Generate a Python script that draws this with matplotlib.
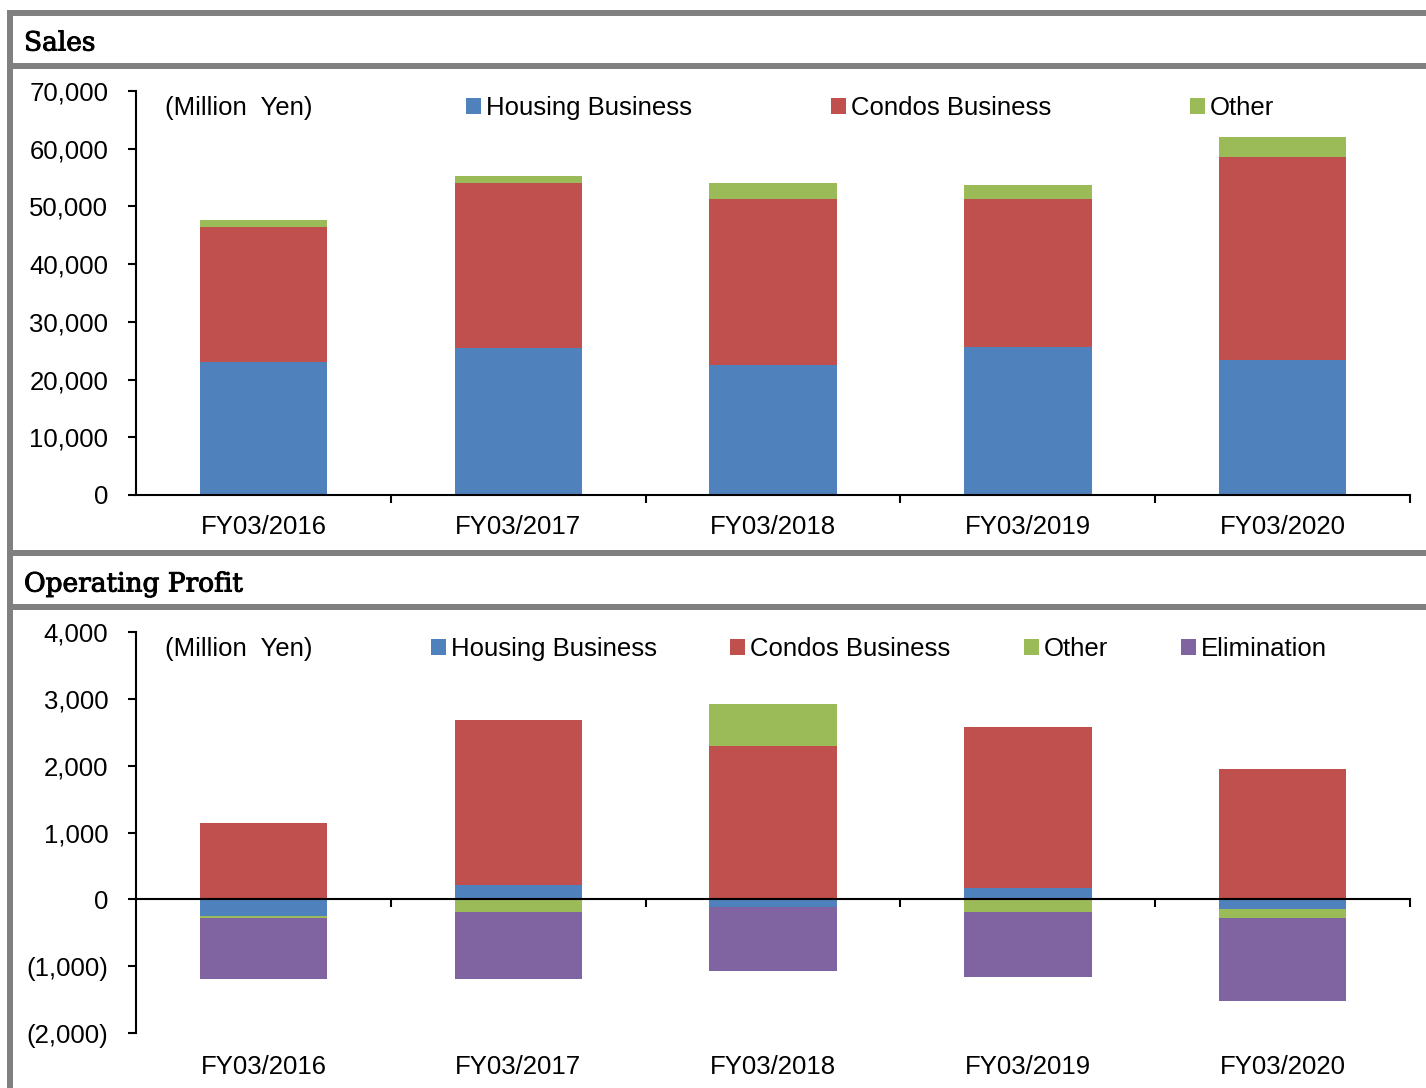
import numpy as np
import matplotlib.pyplot as plt
import matplotlib.patheffects as pe
from matplotlib.patches import Rectangle
from matplotlib.ticker import FuncFormatter

years = ["FY03/2016", "FY03/2017", "FY03/2018", "FY03/2019", "FY03/2020"]

# Sales (Million Yen)
sales_housing = [23100, 25530, 22480, 25600, 23400]
sales_condos = [23350, 28490, 28820, 25700, 35180]
sales_other = [1210, 1270, 2770, 2430, 3410]

# Operating profit (Million Yen)
op_housing = [-250, 220, -115, 165, -145]
op_condos = [1140, 2470, 2295, 2420, 1955]
op_other = [-25, -195, 635, -195, -130]
op_elim = [-920, -1000, -950, -970, -1240]

sales_labels = ["Housing Business", "Condos Business", "Other"]
op_labels = ["Housing Business", "Condos Business", "Other", "Elimination"]
colors = ["#4F81BD", "#C0504D", "#9BBB59", "#8064A2"]

W, H = 1426, 1088
plt.rcParams["font.family"] = ["Liberation Sans", "DejaVu Sans"]
fig = plt.figure(figsize=(W / 100, H / 100), dpi=100)


def fx(x):
    return x / W


def fy(y):
    return 1 - y / H


def band(x0, y0, x1, y1):
    fig.add_artist(Rectangle((fx(x0), fy(y1)), fx(x1) - fx(x0), fy(y0) - fy(y1),
                             transform=fig.transFigure, facecolor="#808080",
                             edgecolor="none"))


# grey frame and header separators
band(7, 10, W, 16)
band(7, 10, 13, H)
band(7, 63, W, 69)
band(7, 550, W, 556)
band(7, 604, W, 610)

heavy = [pe.withStroke(linewidth=0.7, foreground="black")]
fig.text(fx(24), fy(43), "Sales", family="DejaVu Serif", fontsize=19,
         va="center", path_effects=heavy)
fig.text(fx(24), fy(584), "Operating Profit", family="DejaVu Serif", fontsize=19,
         va="center", path_effects=heavy)

x = np.arange(len(years))
fs = 18.5


def thousands(v, pos):
    if v < 0:
        return "({:,.0f})".format(-v)
    return "{:,.0f}".format(v)


def style_axis(ax):
    ax.spines["top"].set_visible(False)
    ax.spines["right"].set_visible(False)
    ax.spines["left"].set_linewidth(1.5)
    ax.spines["bottom"].set_linewidth(1.5)
    ax.set_xlim(-0.5, len(years) - 0.5)
    ax.yaxis.set_major_formatter(FuncFormatter(thousands))
    ax.tick_params(axis="y", direction="out", length=6, width=1.5, pad=14,
                   labelsize=fs)
    ax.set_xticks(x + 0.5, minor=True)
    ax.tick_params(axis="x", which="minor", direction="out", length=6, width=1.5)


# ---- Sales ----
ax1 = fig.add_axes([fx(136), fy(495), fx(1410) - fx(136), fy(91) - fy(495)])
bottom = np.zeros(len(years))
bars1 = []
for vals, c in zip([sales_housing, sales_condos, sales_other], colors):
    b = ax1.bar(x, vals, width=0.5, bottom=bottom, color=c, linewidth=0)
    bars1.append(b)
    bottom += np.array(vals)
style_axis(ax1)
ax1.set_ylim(0, 70000)
ax1.set_yticks(range(0, 70001, 10000))
ax1.set_xticks(x)
ax1.set_xticklabels(years)
ax1.tick_params(axis="x", which="major", length=0, pad=14.5, labelsize=fs)

fig.text(fx(165), fy(108), "(Million  Yen)", fontsize=fs, va="center")
fig.legend(bars1, sales_labels, loc="center left",
           bbox_to_anchor=(fx(466), fy(108)), bbox_transform=fig.transFigure,
           ncol=3, frameon=False, fontsize=fs, borderpad=0, borderaxespad=0,
           handlelength=0.58, handleheight=0.58, handletextpad=0.2,
           columnspacing=5.4)

# ---- Operating Profit ----
ax2 = fig.add_axes([fx(136), fy(1033), fx(1410) - fx(136), fy(632) - fy(1033)])
pos = np.zeros(len(years))
neg = np.zeros(len(years))
bars2 = []
for vals, c in zip([op_housing, op_condos, op_other, op_elim], colors):
    v = np.array(vals, dtype=float)
    base = np.where(v >= 0, pos, neg)
    b = ax2.bar(x, v, width=0.5, bottom=base, color=c, linewidth=0)
    bars2.append(b)
    pos += np.where(v >= 0, v, 0)
    neg += np.where(v < 0, v, 0)
style_axis(ax2)
ax2.set_ylim(-2000, 4000)
ax2.set_yticks(range(-2000, 4001, 1000))
ax2.spines["bottom"].set_position(("data", 0))
ax2.set_xticks([])
sec = ax2.secondary_xaxis("bottom")
sec.spines["bottom"].set_visible(False)
sec.set_xticks(x)
sec.set_xticklabels(years)
sec.tick_params(axis="x", length=0, pad=15.5, labelsize=fs)

fig.text(fx(165), fy(649), "(Million  Yen)", fontsize=fs, va="center")
fig.legend(bars2, op_labels, loc="center left",
           bbox_to_anchor=(fx(431), fy(649)), bbox_transform=fig.transFigure,
           ncol=4, frameon=False, fontsize=fs, borderpad=0, borderaxespad=0,
           handlelength=0.58, handleheight=0.58, handletextpad=0.2,
           columnspacing=2.85)

fig.savefig("out.png", dpi=100)
